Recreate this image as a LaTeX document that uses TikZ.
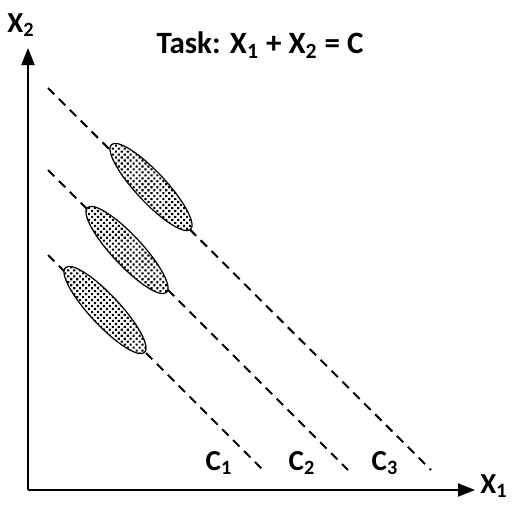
\documentclass[tikz,border=0pt]{standalone}
\usepackage{fontspec}
\setmainfont{Carlito}
\usetikzlibrary{arrows.meta, shapes.geometric, patterns.meta}

\begin{document}
\begin{tikzpicture}[x=0.5pt, y=0.5pt,
      axis/.style={-{Triangle[length=8.5pt, width=6.5pt]}, line width=1pt},
      level/.style={line width=1pt, dash pattern=on 4.5pt off 3.2pt},
      blob/.style={ellipse, draw=black, line width=0.6pt, minimum width=58pt, minimum height=15pt,
        rotate=-47, preaction={fill=white}, pattern={Dots[distance=2.1pt, radius=0.75pt, angle=45]}},
      lbl/.style={font=\bfseries\fontsize{14.5}{16}\selectfont, inner sep=0pt}
    ]
    \useasboundingbox (0,0) rectangle (515,505);
    % axes
    \coordinate (o) at (28,15);
    \coordinate (ytip) at (28,457);
    \coordinate (xtip) at (475,15);
    \draw[axis] (o) -- (ytip);
    \draw[axis] (o) -- (xtip);
    \node[lbl, anchor=west] (x1) at (480,19) {X\textsubscript{1}};
    \node[lbl] (x2) at (21,480) {X\textsubscript{2}};
    \node[font=\bfseries\fontsize{15.5}{18}\selectfont, inner sep=0pt] (task) at (260,460)
      {Task: X\textsubscript{1} + X\textsubscript{2} = C};
    % iso-sum lines
    \coordinate (c1a) at (48,250);  \coordinate (c1b) at (263,35);
    \coordinate (c2a) at (48,335);  \coordinate (c2b) at (348,35);
    \coordinate (c3a) at (48,417);  \coordinate (c3b) at (431,35);
    \draw[level] (c1a) -- (c1b);
    \draw[level] (c2a) -- (c2b);
    \draw[level] (c3a) -- (c3b);
    \node[lbl] (c1) at (219,42) {C\textsubscript{1}};
    \node[lbl] (c2) at (302,42) {C\textsubscript{2}};
    \node[lbl] (c3) at (385,42) {C\textsubscript{3}};
    % solution clouds
    \node[blob] (s3) at (151,318) {};
    \node[blob] (s2) at (127,255) {};
    \node[blob] (s1) at (105,195) {};
  \end{tikzpicture}
\end{document}
